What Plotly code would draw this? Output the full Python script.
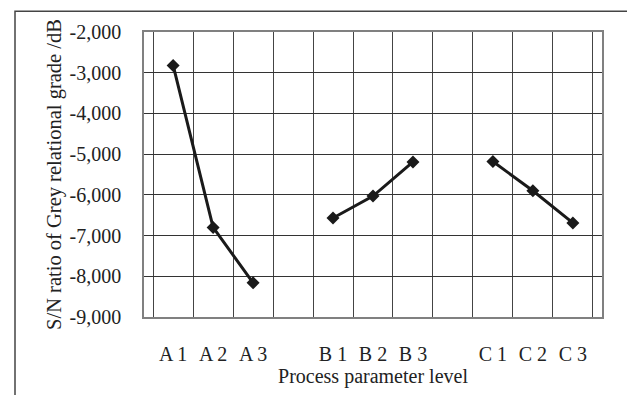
import plotly.graph_objects as go

# Categories (blank entries are the gaps between factor groups)
categories = ["A 1", "A 2", "A 3", " ", "B 1", "B 2", "B 3", "  ", "C 1", "C 2", "C 3"]
sn_values = [-2820, -6800, -8160, None, -6570, -6030, -5190, None, -5180, -5900, -6690]

y_tick_vals = [-2000, -3000, -4000, -5000, -6000, -7000, -8000, -9000]
y_tick_text = ["-2,000", "-3,000", "-4,000", "-5,000", "-6,000", "-7,000", "-8,000", "-9,000"]

x_title = "Process parameter level"
y_title = "S/N ratio of Grey relational grade /dB"

FONT = "Liberation Serif"

fig = go.Figure()
fig.add_trace(go.Scatter(
    x=categories, y=sn_values, mode="lines+markers",
    connectgaps=False,
    line=dict(color="#1a1a1a", width=3),
    marker=dict(symbol="diamond", size=10, color="#1a1a1a"),
    showlegend=False, hoverinfo="x+y",
))

fig.update_layout(
    width=627, height=395,
    margin=dict(l=144, r=25, t=32, b=73),
    paper_bgcolor="white", plot_bgcolor="white",
    font=dict(family=FONT, size=20, color="#222"),
    xaxis=dict(
        type="category", categoryorder="array", categoryarray=categories,
        tickson="boundaries", showgrid=True, gridcolor="#444", gridwidth=1,
        ticks="", ticklabelstandoff=18,
        showline=True, mirror=True, linecolor="#808080", linewidth=1.5,
        zeroline=False,
        title=dict(text=x_title, font=dict(family=FONT, size=20), standoff=4),
    ),
    yaxis=dict(
        range=[-9000, -2000], tickvals=y_tick_vals, ticktext=y_tick_text,
        showgrid=True, gridcolor="#333", gridwidth=1, ticks="",
        ticklabelstandoff=17, zeroline=False,
        showline=True, mirror=True, linecolor="#808080", linewidth=1.5,
        title=dict(text=y_title, font=dict(family=FONT, size=20.5), standoff=2),
    ),
    shapes=[dict(
        type="rect", xref="paper", yref="paper",
        x0=(15 - 144) / 458, x1=(640 - 144) / 458,
        y0=(322 - 410) / 290, y1=1 + (32 - 11) / 290,
        line=dict(color="#444", width=1.5), fillcolor="rgba(0,0,0,0)", layer="below",
    )],
)

fig.write_html(
    "out.html",
    config={"displayModeBar": False},
    post_script="document.body.style.margin='0';document.body.style.overflow='hidden';",
)
